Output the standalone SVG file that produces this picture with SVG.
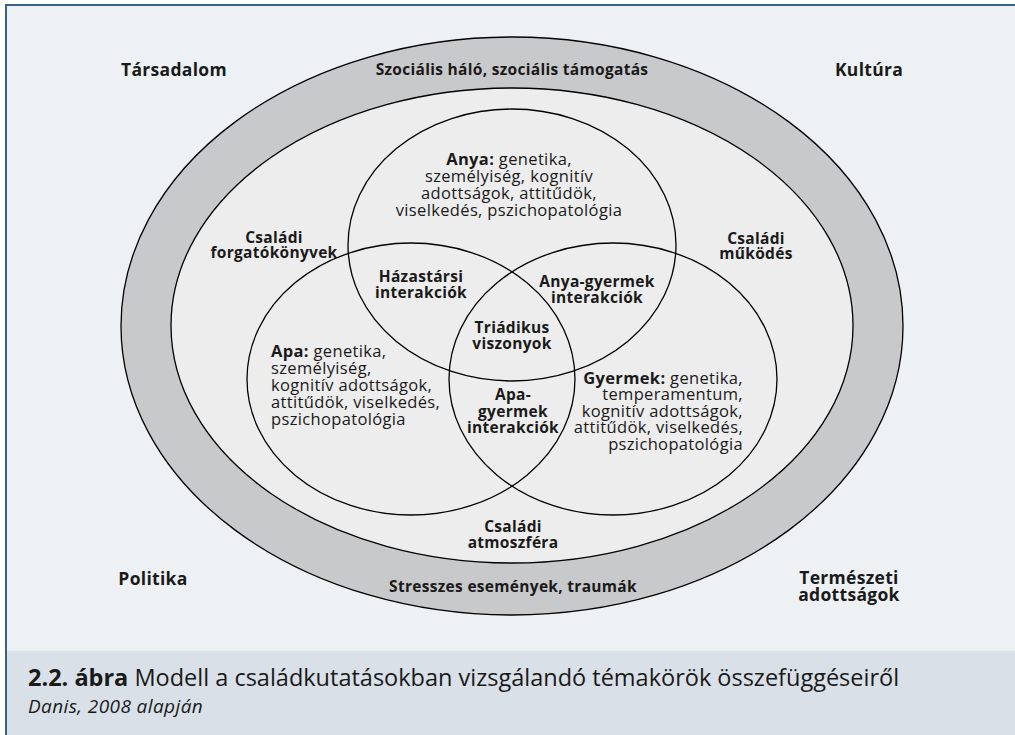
<svg xmlns="http://www.w3.org/2000/svg" width="1015" height="735" viewBox="0 0 1015 735">
  <style>
    .lbl { font-family: "Open Sans", "Noto Sans", "DejaVu Sans", sans-serif; fill: #1a1a1a; }
    .b { font-weight: 700; font-size: 15.5px; letter-spacing: 0.3px; }
    .big { font-weight: 700; font-size: 17.5px; letter-spacing: 0.3px; }
    .r { font-weight: 400; font-size: 16.5px; letter-spacing: 0.35px; }
    .line { fill: none; stroke: #000; stroke-width: 1.3; }
    .mid { text-anchor: middle; }
  </style>

  <!-- frame and caption band -->
  <g id="frame">
    <rect x="6" y="5" width="1020" height="740" fill="#edf1f4" stroke="#3b6085" stroke-width="2"/>
    <rect x="7" y="651" width="1010" height="90" fill="#d9e0e7"/>
  </g>

  <!-- outer ring: social network / stress events -->
  <g id="ring">
    <ellipse cx="512" cy="326" rx="391" ry="289" fill="#c8c9cb" stroke="#000" stroke-width="1.3"/>
    <ellipse cx="512" cy="325.5" rx="341" ry="237.5" fill="#ededed" stroke="#000" stroke-width="1.3"/>
  </g>

  <!-- three overlapping family members -->
  <g id="anya">
    <ellipse class="line" cx="512" cy="245" rx="164" ry="136"/>
  </g>
  <g id="apa">
    <ellipse class="line" cx="411" cy="379" rx="164" ry="136"/>
  </g>
  <g id="gyermek">
    <ellipse class="line" cx="613" cy="379" rx="164" ry="136"/>
  </g>

  <!-- context labels outside the ring -->
  <g id="tarsadalom"><text class="lbl big mid" x="174" y="76">Társadalom</text></g>
  <g id="kultura"><text class="lbl big mid" x="869" y="76">Kultúra</text></g>
  <g id="politika"><text class="lbl big mid" x="153" y="585">Politika</text></g>
  <g id="termeszeti">
    <text class="lbl big mid" x="849" y="584">Természeti</text>
    <text class="lbl big mid" x="849" y="601">adottságok</text>
  </g>

  <!-- ring labels -->
  <g id="szocialis"><text class="lbl b mid" x="512" y="75">Szociális háló, szociális támogatás</text></g>
  <g id="stresszes"><text class="lbl b mid" x="513" y="592">Stresszes események, traumák</text></g>

  <!-- family-level labels -->
  <g id="forgatokonyvek">
    <text class="lbl b mid" x="274" y="243">Családi</text>
    <text class="lbl b mid" x="274" y="258">forgatókönyvek</text>
  </g>
  <g id="mukodes">
    <text class="lbl b mid" x="756" y="244">Családi</text>
    <text class="lbl b mid" x="756" y="259">működés</text>
  </g>
  <g id="atmoszfera">
    <text class="lbl b mid" x="513" y="532">Családi</text>
    <text class="lbl b mid" x="513" y="548">atmoszféra</text>
  </g>

  <!-- member descriptions -->
  <g id="anya-text">
    <text class="lbl r mid" x="509" y="165"><tspan font-weight="700">Anya:</tspan> genetika,</text>
    <text class="lbl r mid" x="509" y="182">személyiség, kognitív</text>
    <text class="lbl r mid" x="509" y="199">adottságok, attitűdök,</text>
    <text class="lbl r mid" x="509" y="216">viselkedés, pszichopatológia</text>
  </g>
  <g id="apa-text">
    <text class="lbl r" x="271" y="357"><tspan font-weight="700">Apa:</tspan> genetika,</text>
    <text class="lbl r" x="271" y="374">személyiség,</text>
    <text class="lbl r" x="271" y="391">kognitív adottságok,</text>
    <text class="lbl r" x="271" y="408">attitűdök, viselkedés,</text>
    <text class="lbl r" x="271" y="425">pszichopatológia</text>
  </g>
  <g id="gyermek-text">
    <text class="lbl r" x="743" y="384" text-anchor="end"><tspan font-weight="700">Gyermek:</tspan> genetika,</text>
    <text class="lbl r" x="743" y="400" text-anchor="end">temperamentum,</text>
    <text class="lbl r" x="743" y="417" text-anchor="end">kognitív adottságok,</text>
    <text class="lbl r" x="743" y="433" text-anchor="end">attitűdök, viselkedés,</text>
    <text class="lbl r" x="743" y="450" text-anchor="end">pszichopatológia</text>
  </g>

  <!-- overlap labels -->
  <g id="hazastarsi">
    <text class="lbl b mid" x="421" y="282">Házastársi</text>
    <text class="lbl b mid" x="421" y="298">interakciók</text>
  </g>
  <g id="anya-gyermek">
    <text class="lbl b mid" x="597" y="287">Anya-gyermek</text>
    <text class="lbl b mid" x="597" y="303">interakciók</text>
  </g>
  <g id="triadikus">
    <text class="lbl b mid" x="512" y="333">Triádikus</text>
    <text class="lbl b mid" x="512" y="349">viszonyok</text>
  </g>
  <g id="apa-gyermek">
    <text class="lbl b mid" x="513" y="400">Apa-</text>
    <text class="lbl b mid" x="513" y="417">gyermek</text>
    <text class="lbl b mid" x="513" y="433">interakciók</text>
  </g>

  <!-- caption -->
  <g id="caption">
    <text class="lbl" x="28" y="686" font-size="23.5"><tspan font-weight="700">2.2. ábra</tspan> Modell a családkutatásokban vizsgálandó témakörök összefüggéseiről</text>
    <text class="lbl" x="28" y="713" font-size="19" font-style="italic" letter-spacing="0.4">Danis, 2008 alapján</text>
  </g>
</svg>
